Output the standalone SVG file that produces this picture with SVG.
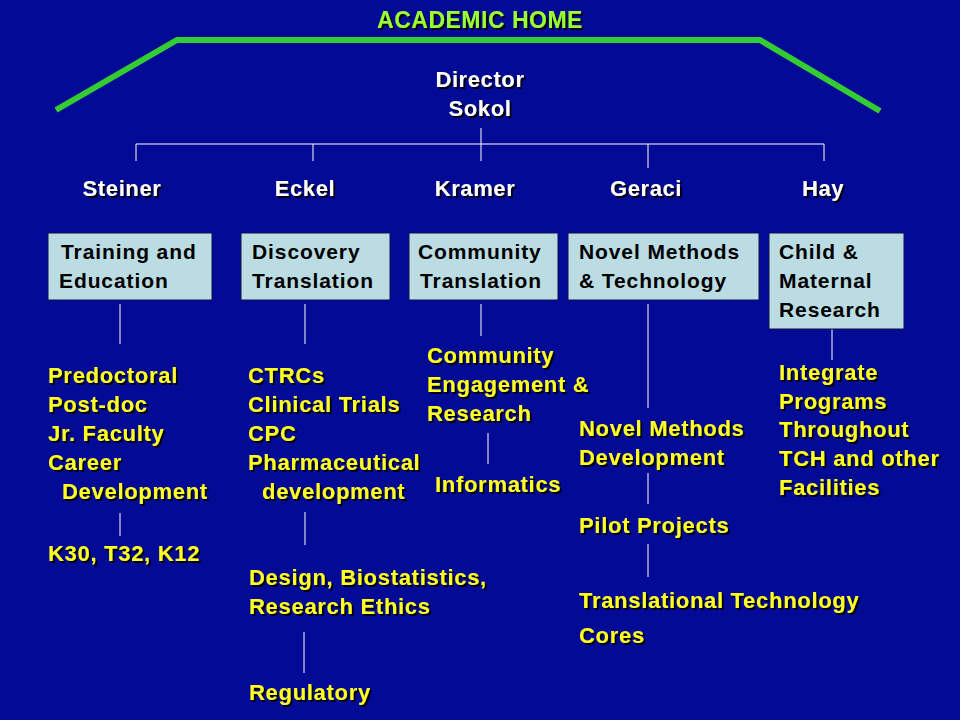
<svg xmlns="http://www.w3.org/2000/svg" width="960" height="720" viewBox="0 0 960 720">
<defs>
<filter id="sh" x="-5%" y="-20%" width="110%" height="140%">
<feDropShadow dx="2" dy="2" stdDeviation="0.6" flood-color="#000000" flood-opacity="0.9"/>
</filter>
<style>
text{font-family:"Liberation Sans",Arial,sans-serif;font-weight:bold}
.title{font-size:23px;fill:#99FF33;letter-spacing:0.5px}
.head{font-size:22px;fill:#FFFFFF;letter-spacing:0.6px}
.box{fill:#BADCE2;stroke:#10104a;stroke-width:1}
.bt{font-size:21px;fill:#000000;letter-spacing:0.9px}
.y{font-size:22px;fill:#FFFF22;letter-spacing:0.7px}
.ln{stroke:#FFFFFF;stroke-width:1;fill:none}
</style>
</defs>
<rect x="0" y="0" width="960" height="720" fill="#020A96"/>

<g id="academic-home">
<polyline points="56,110 177,40 760,40 880,111" fill="none" stroke="#33CC33" stroke-width="6"/>
<text class="title" x="480" y="28" text-anchor="middle" filter="url(#sh)">ACADEMIC HOME</text>
</g>

<g id="director" filter="url(#sh)">
<text class="head" x="480" y="87" text-anchor="middle">Director</text>
<text class="head" x="480" y="116" text-anchor="middle">Sokol</text>
</g>

<g id="connectors">
<path class="ln" d="M481,128 V144 M136,144 H824 M136,144 V161 M313,144 V161 M481,144 V161 M648,144 V168 M824,144 V161"/>
<path class="ln" d="M120,304 V344 M120,513 V536"/>
<path class="ln" d="M305,304 V344 M305,512 V545 M304,632 V673"/>
<path class="ln" d="M481,304 V336 M488,433 V464"/>
<path class="ln" d="M648,304 V408 M648,473 V504 M648,544 V577"/>
<path class="ln" d="M832,329 V360"/>
</g>

<g id="heads" filter="url(#sh)">
<text class="head" x="122" y="196" text-anchor="middle">Steiner</text>
<text class="head" x="305" y="196" text-anchor="middle">Eckel</text>
<text class="head" x="475" y="196" text-anchor="middle">Kramer</text>
<text class="head" x="646" y="196" text-anchor="middle">Geraci</text>
<text class="head" x="823" y="196" text-anchor="middle">Hay</text>
</g>

<g id="box-training">
<rect class="box" x="48" y="233" width="164" height="67"/>
<text class="bt" x="61" y="259">Training and</text>
<text class="bt" x="59" y="288">Education</text>
</g>
<g id="box-discovery">
<rect class="box" x="241" y="233" width="149" height="67"/>
<text class="bt" x="252" y="259">Discovery</text>
<text class="bt" x="252" y="288">Translation</text>
</g>
<g id="box-community">
<rect class="box" x="409" y="233" width="149" height="67"/>
<text class="bt" x="418" y="259">Community</text>
<text class="bt" x="420" y="288">Translation</text>
</g>
<g id="box-novel">
<rect class="box" x="568" y="233" width="191" height="67"/>
<text class="bt" x="579" y="259">Novel Methods</text>
<text class="bt" x="579" y="288">&amp; Technology</text>
</g>
<g id="box-child">
<rect class="box" x="769" y="233" width="135" height="96"/>
<text class="bt" x="779" y="259">Child &amp;</text>
<text class="bt" x="779" y="288">Maternal</text>
<text class="bt" x="779" y="317">Research</text>
</g>

<g id="training-items" filter="url(#sh)">
<text class="y" x="48" y="383">Predoctoral</text>
<text class="y" x="48" y="412">Post-doc</text>
<text class="y" x="48" y="441">Jr. Faculty</text>
<text class="y" x="48" y="470">Career</text>
<text class="y" x="62" y="499">Development</text>
</g>
<g id="training-k" filter="url(#sh)">
<text class="y" x="48" y="561">K30, T32, K12</text>
</g>

<g id="discovery-items" filter="url(#sh)">
<text class="y" x="248" y="383">CTRCs</text>
<text class="y" x="248" y="412">Clinical Trials</text>
<text class="y" x="248" y="441">CPC</text>
<text class="y" x="248" y="470">Pharmaceutical</text>
<text class="y" x="262" y="499">development</text>
</g>
<g id="design" filter="url(#sh)">
<text class="y" x="249" y="585">Design, Biostatistics,</text>
<text class="y" x="249" y="614">Research Ethics</text>
</g>
<g id="regulatory" filter="url(#sh)">
<text class="y" x="249" y="700">Regulatory</text>
</g>

<g id="community-items" filter="url(#sh)">
<text class="y" x="427" y="363">Community</text>
<text class="y" x="427" y="392">Engagement &amp;</text>
<text class="y" x="427" y="421">Research</text>
</g>
<g id="informatics" filter="url(#sh)">
<text class="y" x="435" y="492">Informatics</text>
</g>

<g id="novel-dev" filter="url(#sh)">
<text class="y" x="579" y="436">Novel Methods</text>
<text class="y" x="579" y="465">Development</text>
</g>
<g id="pilot" filter="url(#sh)">
<text class="y" x="579" y="533">Pilot Projects</text>
</g>
<g id="cores" filter="url(#sh)">
<text class="y" x="579" y="608">Translational Technology</text>
<text class="y" x="579" y="643">Cores</text>
</g>

<g id="integrate" filter="url(#sh)">
<text class="y" x="779" y="380">Integrate</text>
<text class="y" x="779" y="409">Programs</text>
<text class="y" x="779" y="437">Throughout</text>
<text class="y" x="779" y="466">TCH and other</text>
<text class="y" x="779" y="495">Facilities</text>
</g>
</svg>
